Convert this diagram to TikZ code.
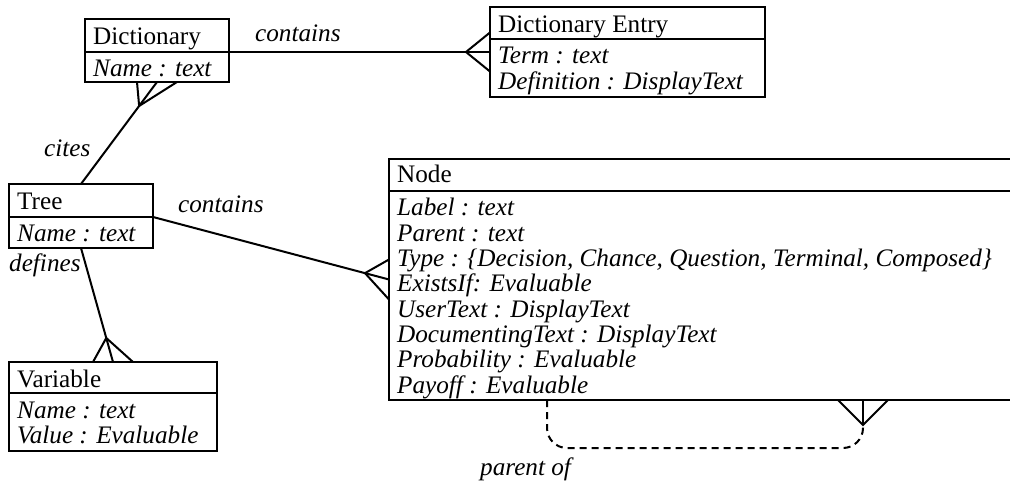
\documentclass[tikz,border=0pt]{standalone}
\usepackage{fontspec}
\setmainfont{Liberation Serif}
\usetikzlibrary{calc}
\begin{document}
\begin{tikzpicture}[x=1pt,y=-1pt,
  every node/.style={font=\fontsize{25.2}{25.3}\selectfont},
  box/.style={draw, line width=2.4pt, inner sep=0pt, outer sep=0pt, anchor=north west},
  txt/.style={inner sep=0pt, anchor=base west},
  lab/.style={inner sep=0pt, anchor=base west, font=\fontsize{25.2}{25.3}\selectfont\itshape},
  conn/.style={line width=2pt},
  dashconn/.style={line width=2pt, dash pattern=on 7pt off 5pt, rounded corners=20pt},
]
\clip (0,0) rectangle (1010,481);
\fill[white] (0,0) rectangle (1010,481);

% Dictionary
\node[box, minimum width=144pt, minimum height=33pt] (dictH) at (85,19) {};
\node[box, minimum width=144pt, minimum height=30pt] (dictA) at (dictH.south west) {};
\node[txt] (dictHT) at ($(dictH.north west)+(8,26)$) {Dictionary};
\node[txt] (dictAT) at ($(dictA.north west)+(8,25)$) {\itshape Name : text};

% Dictionary Entry
\node[box, minimum width=275pt, minimum height=32pt] (deH) at (490,7) {};
\node[box, minimum width=275pt, minimum height=58pt] (deA) at (deH.south west) {};
\node[txt] (deHT) at ($(deH.north west)+(8,26)$) {Dictionary Entry};
\node[txt] (deAT) at ($(deA.north west)+(8,25)$) {\itshape\vtop{\hbox{Term : text}\hbox{Definition : DisplayText}}};

% Tree
\node[box, minimum width=144pt, minimum height=33pt] (treeH) at (9,184) {};
\node[box, minimum width=144pt, minimum height=31pt] (treeA) at (treeH.south west) {};
\node[txt] (treeHT) at ($(treeH.north west)+(8,26)$) {Tree};
\node[txt] (treeAT) at ($(treeA.north west)+(8,25)$) {\itshape Name : text};

% Variable
\node[box, minimum width=208pt, minimum height=31pt] (varH) at (9,362) {};
\node[box, minimum width=208pt, minimum height=58pt] (varA) at (varH.south west) {};
\node[txt] (varHT) at ($(varH.north west)+(8,25)$) {Variable};
\node[txt] (varAT) at ($(varA.north west)+(8,25)$) {\itshape\vtop{\hbox{Name : text}\hbox{Value : Evaluable}}};

% Node (extends past the right edge)
\node[box, minimum width=660pt, minimum height=32pt] (nodeH) at (389,159) {};
\node[box, minimum width=660pt, minimum height=209pt] (nodeA) at (nodeH.south west) {};
\node[txt] (nodeHT) at ($(nodeH.north west)+(8,24)$) {Node};
\node[txt] (nodeAT) at ($(nodeA.north west)+(8,25)$) {\itshape\vtop{%
  \hbox{Label : text}
  \hbox{Parent : text}
  \hbox{Type : \{Decision, Chance, Question, Terminal, Composed\}}
  \hbox{ExistsIf: Evaluable}
  \hbox{UserText : DisplayText}
  \hbox{DocumentingText : DisplayText}
  \hbox{Probability : Evaluable}
  \hbox{Payoff : Evaluable}}};

% Dictionary -- Dictionary Entry (contains)
\coordinate (m1) at ($(deH.north west)!0.5!(deA.south west)$);
\coordinate (v1) at ($(m1)+(-24,0)$);
\draw[conn] (dictH.south east) -- (m1);
\draw[conn] ($(m1)+(0,-19.5)$) -- (v1) -- ($(m1)+(0,19.5)$);
\node[lab] (l1) at (255,42) {contains};

% Tree -- Dictionary (cites)
\coordinate (m2) at (dictA.south);
\coordinate (v2) at ($(m2)!0.235!(treeH.north)$);
\draw[conn] (treeH.north) -- (m2);
\draw[conn] ($(m2)+(-20,0)$) -- (v2) -- ($(m2)+(20,0)$);
\node[lab] (l2) at (44,157) {cites};

% Tree -- Node (contains)
\coordinate (m3) at ($(nodeH.north west)!0.5!(nodeA.south west)$);
\coordinate (v3) at ($(m3)!0.1017!(treeH.south east)$);
\draw[conn] (treeH.south east) -- (m3);
\draw[conn] ($(m3)+(0,-20)$) -- (v3) -- ($(m3)+(0,20)$);
\node[lab] (l3) at (178,213) {contains};

% Tree -- Variable (defines)
\coordinate (m4) at (varH.north);
\coordinate (v4) at ($(m4)!0.2105!(treeA.south)$);
\draw[conn] (treeA.south) -- (m4);
\draw[conn] ($(m4)+(-20,0)$) -- (v4) -- ($(m4)+(20,0)$);
\node[lab] (l4) at (9,272) {defines};

% Node -- Node (parent of)
\coordinate (s5) at ($(nodeA.south west)+(158,0)$);
\coordinate (m5) at ($(nodeA.south west)+(474,0)$);
\coordinate (v5) at ($(m5)+(0,25)$);
\draw[conn] (m5) -- (v5);
\draw[conn] ($(m5)+(-25,0)$) -- (v5) -- ($(m5)+(25,0)$);
\draw[dashconn] (s5) -- ($(s5)+(0,48)$) -- ($(v5)+(0,23)$) -- (v5);
\node[lab] (l5) at (480,475) {parent of};
\end{tikzpicture}
\end{document}
